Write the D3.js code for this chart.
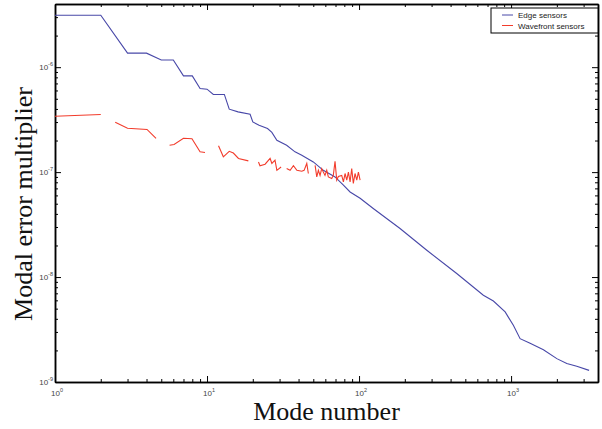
<html>
<head>
	<style>
		body { margin:0; padding:0; background:#fff; }
		svg { display:block; }
		.axis .domain { stroke:#000; stroke-width:1.5; }
		.axis .tick line { stroke:#000; stroke-width:1; }
		.ticklabel { font-family:"Liberation Sans", Arial, sans-serif; font-size:8px; fill:#444; }
		.axislabel { font-family:"Liberation Serif", "Times New Roman", serif; font-size:26px; fill:#111; }
		.legend text { font-family:"Liberation Sans", Arial, sans-serif; font-size:8px; fill:#222; }
	</style>
</head>
<body>
	<svg width="602" height="429"></svg>
	<script src="https://d3js.org/d3.v7.min.js"></script>
	<script>

		// edge sensors (blue) - vertices
		var edgeModes  = [1, 2, 3, 4, 5, 6, 7, 8, 9, 10, 11, 13, 14, 16, 19.2, 20, 22, 25, 26.7, 28.8, 33.4, 37.9, 42, 50, 58.2, 69.5, 78.9, 87.3, 101.6, 124, 186, 279, 439, 657, 765, 914, 1035, 1146, 1334, 1632, 1999, 2325, 2705, 3260];
		var edgeValues = [3.13e-6, 3.13e-6, 1.36e-6, 1.36e-6, 1.17e-6, 1.17e-6, 8.26e-7, 8.26e-7, 6.27e-7, 6.17e-7, 5.5e-7, 5.5e-7, 3.98e-7, 3.75e-7, 3.56e-7, 3.01e-7, 2.8e-7, 2.6e-7, 2.39e-7, 2.01e-7, 1.8e-7, 1.56e-7, 1.45e-7, 1.25e-7, 1.04e-7, 9.0e-8, 7.5e-8, 6.47e-8, 5.64e-8, 4.5e-8, 2.9e-8, 1.8e-8, 1.08e-8, 6.71e-9, 5.91e-9, 4.65e-9, 3.47e-9, 2.59e-9, 2.34e-9, 2.03e-9, 1.67e-9, 1.5e-9, 1.41e-9, 1.29e-9];

		// wavefront sensors (red) - null = gap in the curve
		var wfsModes  = [1, 2, 2.2,
			2.49, 3.0, 4.03, 4.62, 5.2,
			5.67, 6.07, 7.0, 7.96, 9.0, 9.7, 10.5,
			11.9, 12.8, 14.0, 14.9, 16.1, 18.7, 20,
			21.8, 22.3, 24.1, 26.0, 26.7, 28.0, 28.8, 30.7, 32,
			33.4, 35.2, 37.0, 39.0, 42, 43.5, 45.3, 46.4, 48,
			51.4, 52.7, 54.0, 55.4, 56.8, 58.2, 59.7, 61.3, 62.8, 66.1, 67.7, 69.5, 71.3, 73.1, 76.9, 78.9, 80.9, 83.0, 85.1, 87.3, 89.5, 91.7, 94.1, 96.6, 99, 101.6];
		var wfsValues = [3.41e-7, 3.54e-7, null,
			2.99e-7, 2.62e-7, 2.55e-7, 2.1e-7, null,
			1.8e-7, 1.83e-7, 2.1e-7, 2.08e-7, 1.56e-7, 1.54e-7, null,
			1.78e-7, 1.4e-7, 1.58e-7, 1.52e-7, 1.35e-7, 1.28e-7, null,
			1.25e-7, 1.15e-7, 1.19e-7, 1.35e-7, 1.21e-7, 1.3e-7, 1.04e-7, 1.12e-7, null,
			1.08e-7, 1.04e-7, 1.15e-7, 1.04e-7, 1.02e-7, 1.04e-7, 1.21e-7, 9.7e-8, null,
			1.16e-7, 9.0e-8, 1.04e-7, 9.3e-8, 1.08e-7, 1.0e-7, 9.3e-8, 1.04e-7, 9.0e-8, 8.7e-8, 9.3e-8, 1.27e-7, 8.4e-8, 9.1e-8, 9.3e-8, 8.07e-8, 9.7e-8, 8.4e-8, 1.0e-7, 8.07e-8, 1.08e-7, 7.8e-8, 9.7e-8, 8.4e-8, 1.0e-7, 8.4e-8];

		var seriesNames  = ["Edge sensors", "Wavefront sensors"];
		var seriesColors = ["#4848a8", "#f23c2c"];

		var xExponents = [0, 1, 2, 3];
		var yExponents = [-9, -8, -7, -6];

		// note: "top" is taken by window.top, so the margins get a prefix
		var mLeft = 55, mRight = 598, mTop = 4, mBottom = 382;

		var svg = d3.select("svg");

		var x = d3.scaleLog().domain([1, 3730]).range([mLeft, mRight]);
		var y = d3.scaleLog().domain([1e-9, 4e-6]).range([mBottom, mTop]);

		// tick values 1..9 x 10^k inside the domain
		function logTicks(scale, major) {
			var dom = scale.domain(), out = [];
			var lo = Math.floor(Math.log10(dom[0])), hi = Math.ceil(Math.log10(dom[1]));
			for (var e = lo; e <= hi; e++) {
				for (var k = 1; k <= 9; k++) {
					var v = +(k * Math.pow(10, e)).toPrecision(6);
					if (v < dom[0] * 0.999 || v > dom[1] * 1.001) continue;
					if ((k == 1) == major) out.push(v);
				}
			}
			return out;
		}

		function addAxis(gen, transform) {
			svg.append("g").attr("class", "axis").attr("transform", transform)
				.call(gen.tickValues(logTicks(gen.scale(), false)).tickSizeInner(-3).tickSizeOuter(0).tickFormat(""));
			svg.append("g").attr("class", "axis").attr("transform", transform)
				.call(gen.tickValues(logTicks(gen.scale(), true)).tickSizeInner(-6).tickSizeOuter(0).tickFormat(""));
		}

		addAxis(d3.axisBottom(x), "translate(0," + mBottom + ")");
		addAxis(d3.axisTop(x), "translate(0," + mTop + ")");
		addAxis(d3.axisLeft(y), "translate(" + mLeft + ",0)");
		addAxis(d3.axisRight(y), "translate(" + mRight + ",0)");

		// tick labels with superscript exponents
		var xl = svg.selectAll(".xl").data(xExponents).enter().append("text")
			.attr("class", "ticklabel")
			.attr("text-anchor", "middle")
			.attr("x", function(d){ return x(Math.pow(10, d)) + 2; })
			.attr("y", 396);
		xl.append("tspan").text("10");
		xl.append("tspan").attr("dy", -4).attr("font-size", "5.5px").text(function(d){ return d; });

		var yl = svg.selectAll(".yl").data(yExponents).enter().append("text")
			.attr("class", "ticklabel")
			.attr("text-anchor", "end")
			.attr("x", 53)
			.attr("y", function(d){ return y(Math.pow(10, d)) + 3; });
		yl.append("tspan").text("10");
		yl.append("tspan").attr("dy", -4).attr("font-size", "5.5px").text(function(d){ return "-" + Math.abs(d); });

		// lines
		var line = d3.line()
			.defined(function(d){ return d.v != null; })
			.x(function(d){ return x(d.m); })
			.y(function(d){ return y(d.v); });

		var edgeData = edgeModes.map(function(m, i){ return {m:m, v:edgeValues[i]}; });
		var wfsData = wfsModes.map(function(m, i){ return {m:m, v:wfsValues[i]}; });

		svg.append("path").datum(edgeData)
			.attr("d", line).attr("fill", "none")
			.attr("stroke", seriesColors[0]).attr("stroke-width", 1.1);

		svg.append("path").datum(wfsData)
			.attr("d", line).attr("fill", "none")
			.attr("stroke", seriesColors[1]).attr("stroke-width", 1.1);

		// axis titles
		svg.append("text").attr("class", "axislabel")
			.attr("text-anchor", "middle")
			.attr("x", (mLeft + mRight) / 2).attr("y", 420)
			.text("Mode number");

		svg.append("text").attr("class", "axislabel")
			.attr("text-anchor", "middle")
			.attr("transform", "translate(32,204) rotate(-90)")
			.text("Modal error multiplier");

		// legend
		var legend = svg.append("g").attr("class", "legend");
		legend.append("rect")
			.attr("x", 491).attr("y", 8).attr("width", mRight - 491).attr("height", 25)
			.attr("fill", "#fff").attr("stroke", "#000").attr("stroke-width", 1);

		seriesNames.forEach(function(name, i) {
			var ly = 15 + i * 10.5;
			legend.append("line")
				.attr("x1", 502).attr("x2", 513).attr("y1", ly).attr("y2", ly)
				.attr("stroke", seriesColors[i]).attr("stroke-width", 1);
			legend.append("text").attr("x", 518).attr("y", ly + 3).text(name);
		});

	</script>
</body>
</html>
